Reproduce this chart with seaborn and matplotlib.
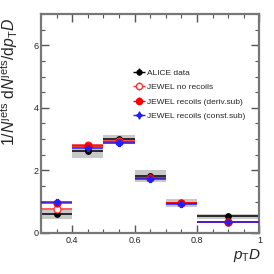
import numpy as np
import pandas as pd
import seaborn as sns
import matplotlib.pyplot as plt
from matplotlib.ticker import MultipleLocator
from matplotlib.patches import Rectangle
from matplotlib.container import ErrorbarContainer
from matplotlib.legend_handler import HandlerErrorbar

# bins in p_T D
bin_centers = [0.35, 0.45, 0.55, 0.65, 0.75, 0.9]
bin_halfwidths = [0.05, 0.05, 0.05, 0.05, 0.05, 0.1]

alice = [0.59, 2.62, 2.99, 1.82, 0.95, 0.54]
alice_stat = [0.04, 0.05, 0.05, 0.04, 0.03, 0.03]
alice_sys = [0.14, 0.23, 0.14, 0.19, 0.12, 0.08]

jewel_norec = [0.78, 2.80, 2.93, 1.75, 0.95, 0.36]
jewel_norec_err = [0.03, 0.03, 0.03, 0.03, 0.02, 0.02]
jewel_deriv = [0.96, 2.77, 2.92, 1.75, 0.95, 0.36]
jewel_deriv_err = [0.04, 0.04, 0.04, 0.03, 0.03, 0.02]
jewel_const = [0.98, 2.73, 2.86, 1.73, 0.94, 0.35]
jewel_const_err = [0.06, 0.05, 0.05, 0.04, 0.03, 0.02]

labels = ["ALICE data", "JEWEL no recoils", "JEWEL recoils (deriv.sub)",
          "JEWEL recoils (const.sub)"]

sns.set_style("ticks")
plt.rcParams["font.family"] = ["Liberation Sans", "DejaVu Sans"]
plt.rcParams["mathtext.fontset"] = "custom"
plt.rcParams["mathtext.rm"] = "Liberation Sans"
plt.rcParams["mathtext.it"] = "Liberation Sans:italic"

fig = plt.figure(figsize=(2.74, 2.74), dpi=100)
ax = fig.add_axes([0.150, 0.150, 0.797, 0.799])

# systematic boxes
for c, hw, y, s in zip(bin_centers, bin_halfwidths, alice, alice_sys):
    ax.add_patch(Rectangle((c - hw, y - s), 2 * hw, 2 * s,
                           facecolor="#c8c8c8", edgecolor="none", zorder=1))

df = pd.DataFrame({
    "x": bin_centers * 4,
    "y": alice + jewel_norec + jewel_deriv + jewel_const,
    "err": alice_stat + jewel_norec_err + jewel_deriv_err + jewel_const_err,
    "xerr": bin_halfwidths * 4,
    "series": np.repeat(labels, len(bin_centers)),
})

styles = {
    labels[0]: dict(color="black", marker="o", mfc="black", ms=4),
    labels[1]: dict(color="#ff3030", marker="o", mfc="white", ms=5),
    labels[2]: dict(color="red", marker="o", mfc="red", ms=5),
    labels[3]: dict(color="#2020ff", marker="P", mfc="#2020ff", ms=4),
}

handles = []
for i, name in enumerate(labels):
    sub = df[df["series"] == name]
    st = styles[name]
    ax.errorbar(sub["x"], sub["y"], xerr=sub["xerr"], yerr=sub["err"],
                fmt="none", ecolor=st["color"], elinewidth=1.1,
                capsize=0, zorder=2 + i)
    sns.scatterplot(x="x", y="y", data=sub, ax=ax, marker=st["marker"],
                    color=st["mfc"], edgecolor=st["color"], linewidth=0.9,
                    s=st["ms"] ** 2, zorder=3 + i, legend=False)
    # legend proxy placed outside the visible range
    proxy = ax.errorbar([-5], [-5], xerr=[0.1], yerr=[0.1], color=st["color"],
                        ecolor=st["color"], marker=st["marker"], mfc=st["mfc"],
                        mec=st["color"], ms=st["ms"] - 0.5, elinewidth=1.0,
                        capsize=0, ls="none")
    handles.append(proxy)

ax.set_xlim(0.3, 1.0)
ax.set_ylim(0, 7)
ax.xaxis.set_major_locator(MultipleLocator(0.2))
ax.xaxis.set_minor_locator(MultipleLocator(0.05))
ax.yaxis.set_major_locator(MultipleLocator(2))
ax.yaxis.set_minor_locator(MultipleLocator(0.5))
ax.set_xticks([0.4, 0.6, 0.8, 1.0])
ax.set_xticklabels(["0.4", "0.6", "0.8", "1"])

ax.tick_params(which="both", direction="in", top=True, right=True,
               color="#555555", labelsize=6.5, labelcolor="#222222", pad=2)
ax.tick_params(which="major", length=6, width=1.0)
ax.tick_params(which="minor", length=3, width=0.8)
for sp in ax.spines.values():
    sp.set_color("#777777")
    sp.set_linewidth(1.6)

ax.set_ylabel(r"$1/N^{\mathrm{jets}}\ \mathrm{d}N^{\mathrm{jets}}/\mathrm{d}p_{\mathrm{T}}D$",
              fontsize=11.3, loc="top")
ax.yaxis.set_label_coords(-0.095, 0.985)
ax.set_xlabel(r"$p_{\mathrm{T}}D$", fontsize=11, loc="right")
ax.xaxis.set_label_coords(1.01, -0.065)

ax.legend(handles, labels, loc="upper left", bbox_to_anchor=(0.405, 0.765),
          frameon=False, fontsize=6, handlelength=1.5, handletextpad=0.2,
          labelspacing=0.8, borderaxespad=0,
          handler_map={ErrorbarContainer: HandlerErrorbar(xerr_size=0.75,
                                                          yerr_size=0.45)})

fig.savefig("out.png", dpi=100)
